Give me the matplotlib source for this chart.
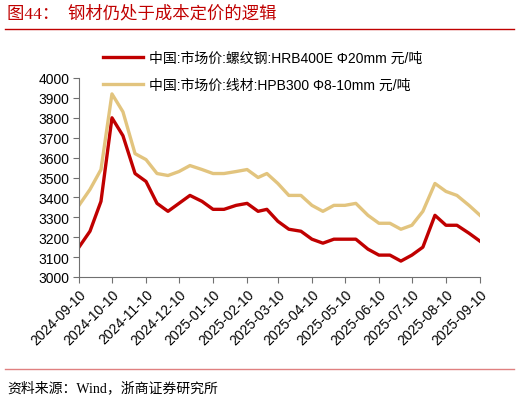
import matplotlib
matplotlib.use("Agg")
import matplotlib.pyplot as plt
import matplotlib.dates as mdates
from matplotlib.lines import Line2D
import pandas as pd

plt.rcParams['font.family'] = ['Liberation Sans', 'Noto Sans CJK SC']

# 10-day (xun) observation dates
dates = pd.to_datetime([
    '2024-09-10', '2024-09-20', '2024-09-30', '2024-10-10', '2024-10-20', '2024-10-31',
    '2024-11-10', '2024-11-20', '2024-11-30', '2024-12-10', '2024-12-20', '2024-12-31',
    '2025-01-10', '2025-01-20', '2025-01-31', '2025-02-10', '2025-02-20', '2025-02-28',
    '2025-03-10', '2025-03-20', '2025-03-31', '2025-04-10', '2025-04-20', '2025-04-30',
    '2025-05-10', '2025-05-20', '2025-05-31', '2025-06-10', '2025-06-20', '2025-06-30',
    '2025-07-10', '2025-07-20', '2025-07-31', '2025-08-10', '2025-08-20', '2025-08-31',
    '2025-09-10'])

rebar = [3150, 3230, 3380, 3800, 3710, 3520, 3480, 3370, 3330, 3370, 3410, 3380,
         3340, 3340, 3360, 3370, 3330, 3340, 3280, 3240, 3230, 3190, 3170, 3190,
         3190, 3190, 3140, 3110, 3110, 3080, 3110, 3150, 3310, 3260, 3260, 3220,
         3180]
wire = [3360, 3440, 3540, 3920, 3830, 3620, 3590, 3520, 3510, 3530, 3560, 3540,
        3520, 3520, 3530, 3540, 3500, 3520, 3470, 3410, 3410, 3360, 3330, 3360,
        3360, 3370, 3310, 3270, 3270, 3240, 3260, 3330, 3470, 3430, 3410, 3360,
        3310]

rebar_label = '中国:市场价:螺纹钢:HRB400E Φ20mm 元/吨'
wire_label = '中国:市场价:线材:HPB300 Φ8-10mm 元/吨'

tick_dates = pd.date_range('2024-09-01', '2025-09-01', freq='MS') + pd.Timedelta(days=9)

fig = plt.figure(figsize=(5.2, 4.02), dpi=100)
ax = fig.add_axes([79/520, 1-278/402, 401/520, 199/402])

ax.plot(dates, rebar, color='#C00000', lw=2.4, solid_joinstyle='round', label=rebar_label)
ax.plot(dates, wire, color='#E2C47E', lw=2.4, solid_joinstyle='round', label=wire_label)

ax.set_xlim(dates[0], dates[-1])
ax.set_ylim(3000, 4000)
ax.set_yticks(range(3000, 4001, 100))
ax.set_xticks(tick_dates)
ax.xaxis.set_major_formatter(mdates.DateFormatter('%Y-%m-%d'))
for lab in ax.get_xticklabels():
    lab.set_rotation(45)
    lab.set_ha('right')
    lab.set_rotation_mode('anchor')
ax.tick_params(labelsize=10, length=4, color='#707070', pad=3)
for s in ['top', 'right']:
    ax.spines[s].set_visible(False)
for s in ['left', 'bottom']:
    ax.spines[s].set_color('#707070')

fig.legend(loc='upper left', bbox_to_anchor=(103/520, 1-52/402), frameon=False,
           fontsize=10, handlelength=2.9, handletextpad=0.4, labelspacing=0.9,
           borderpad=0, borderaxespad=0)

# header and footer
fig.text(7/520, 1-14/402, '图44：  钢材仍处于成本定价的逻辑', color='#C00000',
         fontsize=12.5, va='center', ha='left', family=['Liberation Serif', 'Noto Sans CJK SC'])
fig.add_artist(Line2D([5/520, 514/520], [1-30/402, 1-30/402], color='#C00000', lw=1))
fig.add_artist(Line2D([5/520, 514/520], [1-370/402, 1-370/402], color='#E08080', lw=1))
fig.text(7/520, 1-388/402, '资料来源：Wind，浙商证券研究所', fontsize=10,
         va='center', ha='left', family=['Liberation Serif', 'Noto Sans CJK SC'])

fig.savefig('out.png', dpi=100)
